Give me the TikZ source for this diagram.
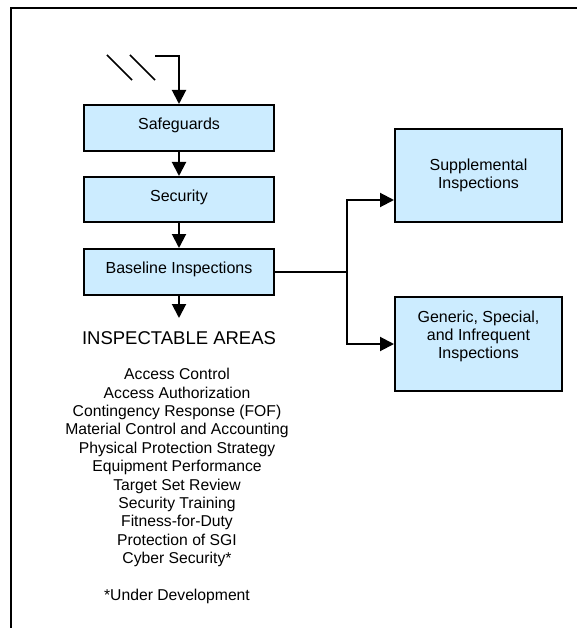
\documentclass[tikz,border=0pt]{standalone}
\usepackage{fontspec}
\setmainfont{Liberation Sans}
\usetikzlibrary{arrows.meta}
\definecolor{boxblue}{RGB}{204,236,255}
\tikzset{
  boxnode/.style={draw=black, fill=boxblue, line width=2pt, inner sep=0pt,
    font=\fontsize{16}{18}\selectfont, align=center},
  conn/.style={line width=2pt, line join=miter},
  arr/.style={conn, -{Triangle[length=14pt,width=14pt]}},
}
\begin{document}
\begin{tikzpicture}[x=1pt,y=-1pt]
\useasboundingbox (0,0) rectangle (577,628);
% frame
\draw[line width=2pt] (11,628) -- (11,8) -- (577,8);

% boxes
\node[boxnode, minimum width=190pt, minimum height=46pt, text height=9.5pt, text depth=6.5pt] (safe) at (179,128) {Safeguards};
\node[boxnode, minimum width=190pt, minimum height=45pt, text height=9.5pt, text depth=6.5pt] (sec) at (179,199.5) {Security};
\node[boxnode, minimum width=190pt, minimum height=46pt, text height=9.5pt, text depth=6.5pt] (base) at (179,272) {Baseline Inspections};
\node[boxnode, minimum width=167pt, minimum height=93pt] (supp) at (478.5,175.5) {Supplemental\\Inspections};
\node[boxnode, minimum width=167pt, minimum height=94pt] (gen) at (478.5,344) {};
\node[font=\fontsize{16}{18}\selectfont, align=center, inner sep=0pt, anchor=north] (gentext) at (478.5,310.5) {Generic, Special,\\and Infrequent\\Inspections};

% incoming break arrow
\coordinate (inA) at (155,56);
\coordinate (inB) at (179,56);
\draw[line width=1.5pt] (107,55) -- (132,80);
\draw[line width=1.5pt] (130,55) -- (155,80);
\draw[arr] (inA) -- (inB) -- (safe.north);

\draw[arr] (safe.south) -- (sec.north);
\draw[arr] (sec.south) -- (base.north);

% inspectable areas
\coordinate (areasTop) at (179,318);
\draw[arr] (base.south) -- (areasTop);
\node[font=\fontsize{18.5}{21}\selectfont, inner sep=0pt, anchor=base] (areas) at (179,344.6) {INSPECTABLE AREAS};
\node[font=\fontsize{15.7}{18.37}\selectfont, align=center, inner sep=0pt, anchor=north] (list) at (177,368.2)
 {Access Control\\Access Authorization\\Contingency Response (FOF)\\Material Control and Accounting\\Physical Protection Strategy\\Equipment Performance\\Target Set Review\\Security Training\\Fitness-for-Duty\\Protection of SGI\\Cyber Security*\\[18.37pt]*Under Development};

% fork to right boxes
\coordinate (fork) at (347,272);
\draw[conn] (base.east) -- (fork);
\draw[arr] (fork) |- ([yshift=-24.5pt]supp.west);
\draw[arr] (fork) |- (gen.west);
\end{tikzpicture}
\end{document}
